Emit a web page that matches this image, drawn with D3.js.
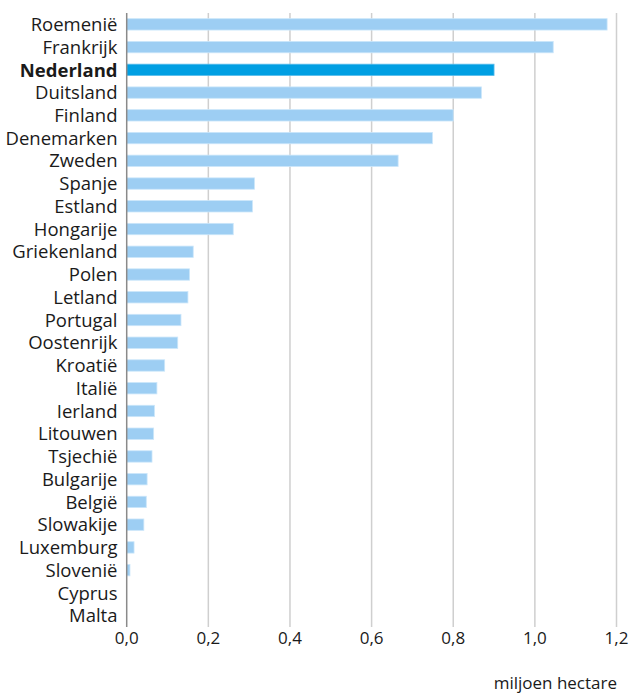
<!DOCTYPE html>
<html>
<head>
<meta charset="utf-8">
<script src="https://cdn.jsdelivr.net/npm/d3@7"></script>
<style>
  html, body { margin: 0; padding: 0; background: #fff; }
  svg { display: block; }
  text { font-family: "Open Sans", "Noto Sans", sans-serif; fill: #1a1a1a; }
</style>
</head>
<body>
<svg id="chart" width="629" height="693"></svg>
<script>
const countries = ["Roemenië","Frankrijk","Nederland","Duitsland","Finland","Denemarken","Zweden","Spanje","Estland","Hongarije","Griekenland","Polen","Letland","Portugal","Oostenrijk","Kroatië","Italië","Ierland","Litouwen","Tsjechië","Bulgarije","België","Slowakije","Luxemburg","Slovenië","Cyprus","Malta"];
const values = [1.177,1.045,0.900,0.869,0.800,0.749,0.665,0.313,0.308,0.261,0.163,0.154,0.150,0.133,0.125,0.093,0.074,0.068,0.066,0.062,0.050,0.048,0.042,0.018,0.008,0,0];
const highlight = "Nederland";
const xTicks = [0,0.2,0.4,0.6,0.8,1.0,1.2];
const xTickLabels = ["0,0","0,2","0,4","0,6","0,8","1,0","1,2"];
const unitLabel = "miljoen hectare";

const svg = d3.select("#chart");
const x = d3.scaleLinear().domain([0, 1.2]).range([126.7, 616.5]);
const y = d3.scaleBand().domain(countries).range([13, 627]).paddingInner(0.5).paddingOuter(0.25);

// gridlines
svg.append("g").selectAll("line").data(xTicks.slice(1)).join("line")
  .attr("x1", d => x(d)).attr("x2", d => x(d))
  .attr("y1", 13).attr("y2", 627)
  .attr("stroke", "#cfcfcf").attr("stroke-width", 1.5);

// bars
svg.append("g").selectAll("rect").data(countries).join("rect")
  .attr("x", x(0))
  .attr("y", d => y(d))
  .attr("width", (d, i) => Math.max(0, x(values[i]) - x(0)))
  .attr("height", y.bandwidth())
  .attr("fill", d => d === highlight ? "#009fe3" : "#9dcef3")
  .attr("stroke", d => d === highlight ? "#5cbdec" : "#cbe6fa")
  .attr("stroke-width", 0.8);

// zero axis line
svg.append("line")
  .attr("x1", x(0)).attr("x2", x(0))
  .attr("y1", 13).attr("y2", 627)
  .attr("stroke", "#8a8a8a").attr("stroke-width", 1.5);

// category labels
svg.append("g").selectAll("text").data(countries).join("text")
  .attr("x", 117.5)
  .attr("y", d => y(d) + y.bandwidth() / 2)
  .attr("dy", "0.36em")
  .attr("text-anchor", "end")
  .attr("font-size", "18.5px")
  .attr("font-weight", d => d === highlight ? 700 : 400)
  .text(d => d);

// x tick labels
svg.append("g").selectAll("text").data(xTicks).join("text")
  .attr("x", d => x(d))
  .attr("y", 644)
  .attr("text-anchor", "middle")
  .attr("font-size", "17px")
  .text((d, i) => xTickLabels[i]);

svg.append("text")
  .attr("x", 617).attr("y", 689)
  .attr("text-anchor", "end")
  .attr("font-size", "17px")
  .text(unitLabel);
</script>
</body>
</html>
